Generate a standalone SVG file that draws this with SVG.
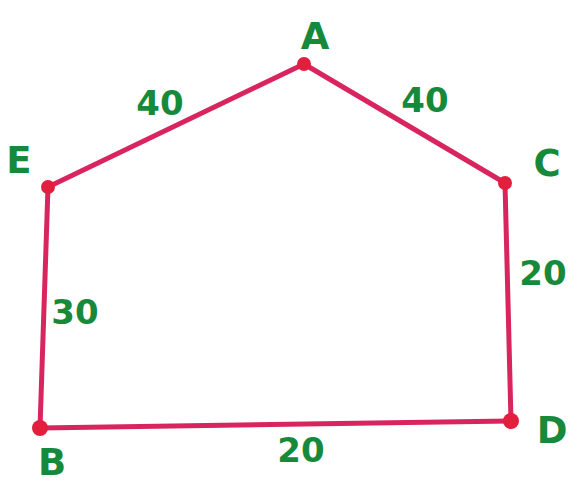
<svg xmlns="http://www.w3.org/2000/svg" width="574" height="486" viewBox="0 0 574 486">
<style>
.edge{fill:none;stroke:#d9255f;stroke-width:5;stroke-linecap:round;stroke-linejoin:round}
.dot{fill:#e21f3c}
.lbl{font-family:"DejaVu Sans","Liberation Sans",sans-serif;font-weight:bold;fill:#17893a;text-anchor:middle;dominant-baseline:central}
.v{font-size:37px}
.n{font-size:34px}
</style>
<rect width="574" height="486" fill="#ffffff"/>
<g id="connectors">
<line class="edge" x1="304" y1="64" x2="505" y2="183"/>
<line class="edge" x1="505" y1="183" x2="511" y2="421"/>
<line class="edge" x1="511" y1="421" x2="40" y2="428"/>
<line class="edge" x1="40" y1="428" x2="48" y2="187"/>
<line class="edge" x1="48" y1="187" x2="304" y2="64"/>
</g>
<g id="A"><circle class="dot" cx="304" cy="64" r="7"/><text class="lbl v" x="315" y="36">A</text></g>
<g id="C"><circle class="dot" cx="505" cy="183" r="7"/><text class="lbl v" x="547" y="163">C</text></g>
<g id="D"><circle class="dot" cx="511" cy="421" r="8"/><text class="lbl v" x="552" y="430">D</text></g>
<g id="B"><circle class="dot" cx="40" cy="428" r="8"/><text class="lbl v" x="52" y="462">B</text></g>
<g id="E"><circle class="dot" cx="48" cy="187" r="7"/><text class="lbl v" x="19" y="160">E</text></g>
<g id="labels">
<text class="lbl n" x="160" y="103">40</text>
<text class="lbl n" x="425" y="100">40</text>
<text class="lbl n" x="75" y="312">30</text>
<text class="lbl n" x="543" y="273">20</text>
<text class="lbl n" x="301" y="450">20</text>
</g>
</svg>
